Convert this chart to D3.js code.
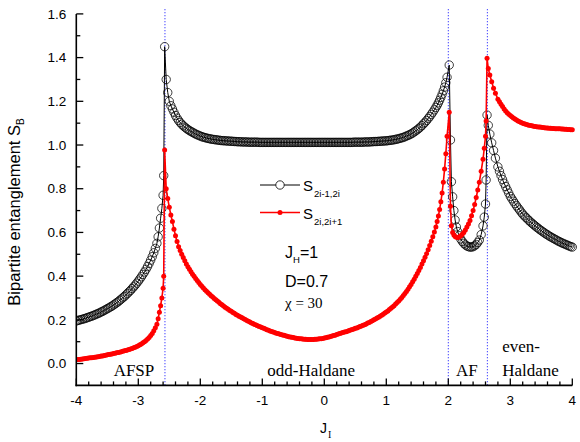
<!DOCTYPE html>
<html><head><meta charset="utf-8">
<script src="https://cdn.jsdelivr.net/npm/d3@7"></script>
<style>body{margin:0;background:#fff}svg{display:block}</style>
</head><body>
<svg id="c" width="580" height="442"></svg>
<script>
// J_I grid (shared by both series)
const jGrid = [
 -4,-3.975,-3.95,-3.925,-3.9,-3.875,-3.85,-3.825,-3.8,-3.775,
 -3.75,-3.725,-3.7,-3.675,-3.65,-3.625,-3.6,-3.575,-3.55,-3.525,
 -3.5,-3.475,-3.45,-3.425,-3.4,-3.375,-3.35,-3.325,-3.3,-3.275,
 -3.25,-3.225,-3.2,-3.175,-3.15,-3.125,-3.1,-3.075,-3.05,-3.025,
 -3,-2.975,-2.95,-2.925,-2.9,-2.875,-2.85,-2.825,-2.8,-2.775,
 -2.75,-2.725,-2.7,
 -2.68,-2.66,-2.64,-2.62,-2.60,-2.59,-2.575,-2.55,-2.525,-2.50,-2.475,-2.45,-2.425,-2.40,
 -2.375,-2.35,-2.325,-2.3,-2.275,-2.25,-2.225,-2.2,-2.175,-2.15,
 -2.125,-2.1,-2.075,-2.05,-2.025,-2,-1.975,-1.95,-1.925,-1.9,
 -1.875,-1.85,-1.825,-1.8,-1.775,-1.75,-1.725,-1.7,-1.675,-1.65,
 -1.625,-1.6,-1.575,-1.55,-1.525,-1.5,-1.475,-1.45,-1.425,-1.4,
 -1.375,-1.35,-1.325,-1.3,-1.275,-1.25,-1.225,-1.2,-1.175,-1.15,
 -1.125,-1.1,-1.075,-1.05,-1.025,-1,-0.975,-0.95,-0.925,-0.9,
 -0.875,-0.85,-0.825,-0.8,-0.775,-0.75,-0.725,-0.7,-0.675,-0.65,
 -0.625,-0.6,-0.575,-0.55,-0.525,-0.5,-0.475,-0.45,-0.425,-0.4,
 -0.375,-0.35,-0.325,-0.3,-0.275,-0.25,-0.225,-0.2,-0.175,-0.15,
 -0.125,-0.1,-0.075,-0.05,-0.025,0,0.025,0.05,0.075,0.1,
 0.125,0.15,0.175,0.2,0.225,0.25,0.275,0.3,0.325,0.35,
 0.375,0.4,0.425,0.45,0.475,0.5,0.525,0.55,0.575,0.6,
 0.625,0.65,0.675,0.7,0.725,0.75,0.775,0.8,0.825,0.85,
 0.875,0.9,0.925,0.95,0.975,1,1.025,1.05,1.075,1.1,
 1.125,1.15,1.175,1.2,1.225,1.25,1.275,1.3,1.325,1.35,
 1.375,1.4,1.425,1.45,1.475,1.5,1.525,1.55,1.575,1.6,
 1.625,1.65,1.675,1.7,1.725,1.75,1.775,1.8,
 1.82,1.84,1.86,1.88,1.90,1.92,1.94,1.96,1.98,2.015,
 2.035,2.05,2.07,2.09,2.11,
 2.13,2.15,2.175,2.20,2.225,2.25,2.275,2.30,2.325,2.35,2.375,2.40,2.425,2.45,2.475,2.50,
 2.53,2.56,2.58,2.60,2.61,2.625,2.645,2.67,2.70,2.73,2.76,2.80,
 2.825,2.85,2.875,2.9,2.925,2.95,2.975,3,3.025,3.05,
 3.075,3.1,3.125,3.15,3.175,3.2,3.225,3.25,3.275,3.3,
 3.325,3.35,3.375,3.4,3.425,3.45,3.475,3.5,3.525,3.55,
 3.575,3.6,3.625,3.65,3.675,3.7,3.725,3.75,3.775,3.8,
 3.825,3.85,3.875,3.9,3.925,3.95,3.975,4
];
// S_{2i-1,2i} (black, open circles)
const sOdd = [
 0.195,0.197,0.199,0.201,0.203,0.205,0.207,0.210,0.212,0.215,
 0.217,0.220,0.223,0.226,0.229,0.232,0.236,0.239,0.243,0.247,
 0.251,0.255,0.259,0.263,0.268,0.273,0.278,0.283,0.289,0.295,
 0.301,0.307,0.314,0.321,0.328,0.335,0.343,0.351,0.359,0.368,
 0.377,0.387,0.397,0.408,0.419,0.431,0.444,0.458,0.473,0.489,
 0.507,0.527,0.550,
 0.580,0.620,0.665,0.710,0.770,0.860,1.450,1.300,1.240,1.200,1.180,1.165,1.150,1.135,
 1.123,1.112,1.103,1.095,1.088,1.082,1.076,1.071,1.066,1.062,
 1.058,1.054,1.050,1.047,1.044,1.041,1.038,1.036,1.034,1.032,
 1.030,1.029,1.027,1.026,1.025,1.024,1.023,1.022,1.021,1.020,
 1.020,1.019,1.019,1.018,1.018,1.017,1.017,1.016,1.016,1.015,
 1.015,1.015,1.014,1.014,1.014,1.014,1.013,1.013,1.013,1.013,
 1.013,1.013,1.013,1.012,1.012,1.012,1.012,1.012,1.012,1.012,
 1.012,1.012,1.012,1.012,1.012,1.012,1.012,1.012,1.012,1.012,
 1.012,1.012,1.012,1.012,1.012,1.012,1.012,1.012,1.012,1.012,
 1.012,1.012,1.012,1.012,1.012,1.012,1.012,1.012,1.012,1.012,
 1.012,1.012,1.012,1.012,1.012,1.012,1.012,1.012,1.012,1.012,
 1.012,1.012,1.012,1.012,1.012,1.012,1.012,1.012,1.012,1.012,
 1.012,1.012,1.012,1.012,1.013,1.013,1.013,1.013,1.013,1.013,
 1.013,1.014,1.014,1.014,1.014,1.015,1.015,1.016,1.016,1.016,
 1.017,1.017,1.018,1.018,1.019,1.019,1.020,1.021,1.022,1.023,
 1.024,1.026,1.027,1.029,1.031,1.033,1.035,1.038,1.041,1.044,
 1.047,1.051,1.055,1.060,1.065,1.070,1.076,1.082,1.089,1.097,
 1.104,1.112,1.121,1.130,1.140,1.150,1.161,1.172,
 1.182,1.193,1.205,1.218,1.232,1.248,1.265,1.285,1.310,1.366,
 1.023,0.832,0.763,0.700,0.657,
 0.625,0.604,0.585,0.570,0.559,0.550,0.543,0.538,0.535,0.533,0.533,0.535,0.539,0.545,0.554,0.565,
 0.590,0.630,0.670,0.730,0.840,1.137,1.090,1.050,1.010,0.975,0.940,0.900,
 0.880,0.860,0.842,0.825,0.810,0.795,0.780,0.765,0.754,0.743,
 0.732,0.722,0.712,0.703,0.693,0.684,0.676,0.669,0.662,0.655,
 0.648,0.642,0.636,0.630,0.624,0.619,0.613,0.608,0.603,0.598,
 0.593,0.589,0.584,0.580,0.576,0.572,0.568,0.564,0.560,0.557,
 0.553,0.550,0.547,0.544,0.541,0.538,0.535,0.533
];
// S_{2i,2i+1} (red, filled dots)
const sEven = [
 0.017,0.018,0.019,0.020,0.021,0.022,0.023,0.024,0.025,0.026,
 0.027,0.028,0.029,0.030,0.031,0.032,0.034,0.035,0.037,0.038,
 0.040,0.041,0.043,0.044,0.046,0.047,0.049,0.050,0.052,0.054,
 0.056,0.058,0.060,0.062,0.064,0.066,0.069,0.072,0.075,0.078,
 0.082,0.086,0.090,0.095,0.100,0.106,0.112,0.119,0.128,0.138,
 0.150,0.164,0.180,
 0.205,0.235,0.265,0.300,0.345,0.400,0.977,0.800,0.755,0.715,0.680,0.650,0.615,0.585,
 0.558,0.535,0.517,0.500,0.485,0.470,0.456,0.443,0.431,0.420,
 0.409,0.399,0.389,0.380,0.371,0.362,0.354,0.346,0.338,0.331,
 0.324,0.317,0.310,0.304,0.298,0.292,0.286,0.280,0.274,0.269,
 0.263,0.258,0.253,0.248,0.243,0.239,0.234,0.230,0.225,0.221,
 0.217,0.213,0.209,0.205,0.201,0.197,0.193,0.190,0.186,0.183,
 0.179,0.176,0.173,0.170,0.167,0.164,0.161,0.158,0.155,0.152,
 0.149,0.147,0.144,0.142,0.139,0.137,0.135,0.133,0.131,0.129,
 0.127,0.125,0.123,0.122,0.120,0.119,0.117,0.116,0.115,0.114,
 0.113,0.112,0.111,0.111,0.110,0.110,0.110,0.110,0.110,0.111,
 0.111,0.112,0.113,0.114,0.115,0.117,0.118,0.120,0.122,0.124,
 0.126,0.128,0.130,0.133,0.135,0.138,0.140,0.142,0.144,0.146,
 0.148,0.151,0.153,0.156,0.158,0.161,0.163,0.166,0.169,0.172,
 0.175,0.178,0.181,0.185,0.188,0.192,0.196,0.200,0.204,0.208,
 0.212,0.217,0.221,0.226,0.231,0.236,0.241,0.247,0.253,0.259,
 0.265,0.272,0.279,0.286,0.294,0.302,0.311,0.320,0.330,0.340,
 0.351,0.362,0.374,0.386,0.399,0.412,0.426,0.440,0.455,0.470,
 0.486,0.503,0.521,0.540,0.560,0.580,0.602,0.625,
 0.650,0.675,0.705,0.740,0.780,0.830,0.890,0.960,1.040,1.150,
 0.720,0.630,0.600,0.588,0.581,
 0.578,0.577,0.579,0.585,0.592,0.600,0.611,0.625,0.639,0.655,0.676,0.700,0.728,0.760,0.794,0.830,
 0.880,0.935,0.985,1.040,1.110,1.397,1.350,1.320,1.290,1.260,1.237,1.210,
 1.198,1.187,1.176,1.165,1.156,1.148,1.141,1.135,1.129,1.124,
 1.119,1.114,1.110,1.106,1.103,1.100,1.097,1.095,1.093,1.091,
 1.089,1.088,1.086,1.085,1.084,1.083,1.082,1.081,1.080,1.079,
 1.078,1.078,1.077,1.077,1.076,1.076,1.075,1.075,1.074,1.074,
 1.073,1.073,1.072,1.072,1.071,1.071,1.070,1.070
];
const transitions = [-2.57, 2.0, 2.63];
const xTicks = [-4,-3,-2,-1,0,1,2,3,4];
const yTicks = [0.0,0.2,0.4,0.6,0.8,1.0,1.2,1.4,1.6];
const phaseLabels = [
 {text:"AFSP", j:-3.07, v:-0.055, anchor:"middle"},
 {text:"odd-Haldane", j:-0.21, v:-0.055, anchor:"middle"},
 {text:"AF", j:2.3, v:-0.055, anchor:"middle"},
 {text:"even-", j:2.87, v:0.053, anchor:"start"},
 {text:"Haldane", j:2.87, v:-0.055, anchor:"start"}
];

const svg = d3.select("#c");
const L = 76.3, R = 572.3, T = 13.9, B = 385.4;
const x = d3.scaleLinear().domain([-4,4]).range([L,R]);
const y = d3.scaleLinear().domain([-0.1,1.6]).range([B,T]);
const sans = "Arial, 'Liberation Sans', sans-serif";
const serif = "'Times New Roman', 'Liberation Serif', serif";

const n = Math.min(jGrid.length, sOdd.length, sEven.length);
const odd = jGrid.slice(0,n).map((j,i)=>[j,sOdd[i]]);
const even = jGrid.slice(0,n).map((j,i)=>[j,sEven[i]]);

svg.append("defs").append("clipPath").attr("id","clip")
  .append("rect").attr("x",L).attr("y",0).attr("width",R-L+6).attr("height",B);

// transition lines
svg.append("g").selectAll("line").data(transitions).join("line")
  .attr("x1",d=>x(d)).attr("x2",d=>x(d)).attr("y1",y(1.622)).attr("y2",B)
  .attr("stroke","#3030ff").attr("stroke-width",1).attr("stroke-dasharray","1.2,1.8");

const plot = svg.append("g").attr("clip-path","url(#clip)");
const line = d3.line().x(d=>x(d[0])).y(d=>y(d[1]));

plot.append("path").datum(odd).attr("d",line).attr("fill","none").attr("stroke","#000").attr("stroke-width",1);
plot.append("g").selectAll("circle").data(odd).join("circle")
  .attr("cx",d=>x(d[0])).attr("cy",d=>y(d[1])).attr("r",4.2)
  .attr("fill","none").attr("stroke","#000").attr("stroke-width",0.75);

plot.append("path").datum(even).attr("d",line).attr("fill","none").attr("stroke","#ff0000").attr("stroke-width",1.6);
plot.append("g").selectAll("circle").data(even).join("circle")
  .attr("cx",d=>x(d[0])).attr("cy",d=>y(d[1])).attr("r",2.5)
  .attr("fill","#ff0000");

// axes
const ax = svg.append("g").attr("stroke","#000");
ax.append("line").attr("x1",L).attr("x2",L).attr("y1",T).attr("y2",B+0.8).attr("stroke-width",1.6);
ax.append("line").attr("x1",L-0.8).attr("x2",R).attr("y1",B).attr("y2",B).attr("stroke-width",1.6);

const yMinor = yTicks.slice(0,-1).map(v=>+(v+0.1).toFixed(1));
const xMinor = [];
xTicks.slice(0,-1).forEach(t=>{[0.2,0.4,0.6,0.8].forEach(f=>xMinor.push(+(t+f).toFixed(1)));});

ax.selectAll(".ytm").data(yTicks).join("line").attr("class","ytm").attr("x1",L).attr("x2",L+7).attr("y1",d=>y(d)).attr("y2",d=>y(d)).attr("stroke-width",1.3);
ax.selectAll(".ytn").data(yMinor).join("line").attr("class","ytn").attr("x1",L).attr("x2",L+4).attr("y1",d=>y(d)).attr("y2",d=>y(d)).attr("stroke-width",1.3);
ax.selectAll(".xtm").data(xTicks).join("line").attr("class","xtm").attr("x1",d=>x(d)).attr("x2",d=>x(d)).attr("y1",B).attr("y2",B-7).attr("stroke-width",1.3);
ax.selectAll(".xtn").data(xMinor).join("line").attr("class","xtn").attr("x1",d=>x(d)).attr("x2",d=>x(d)).attr("y1",B).attr("y2",B-4).attr("stroke-width",1.3);

svg.append("g").selectAll("text").data(yTicks).join("text")
  .attr("x",L-10).attr("y",d=>y(d)+4.7).attr("text-anchor","end")
  .attr("font-family",sans).attr("font-size",13.5).text(d=>d.toFixed(1));
svg.append("g").selectAll("text").data(xTicks).join("text")
  .attr("x",d=>x(d)).attr("y",405).attr("text-anchor","middle")
  .attr("font-family",sans).attr("font-size",13.5).text(d=>d);

// axis titles
const yt = svg.append("text").attr("transform","translate(20,212) rotate(-90)")
  .attr("text-anchor","middle").attr("font-family",sans).attr("font-size",16.5);
yt.append("tspan").text("Bipartite entanglement S");
yt.append("tspan").attr("font-size",10).attr("dy",4).text("B");

const xt = svg.append("text").attr("x",320).attr("y",433).attr("font-family",sans).attr("font-size",14);
xt.append("tspan").text("J");
xt.append("tspan").attr("font-family",serif).attr("font-size",10).attr("dy",5).attr("dx",1).text("I");

// phase labels
svg.append("g").selectAll("text").data(phaseLabels).join("text")
  .attr("x",d=>x(d.j)).attr("y",d=>y(d.v)).attr("text-anchor",d=>d.anchor)
  .attr("font-family",serif).attr("font-size",17).text(d=>d.text);

// legend
const lg = svg.append("g");
lg.append("line").attr("x1",260).attr("x2",300).attr("y1",185).attr("y2",185).attr("stroke","#000").attr("stroke-width",1);
lg.append("circle").attr("cx",280).attr("cy",185).attr("r",4.2).attr("fill","#fff").attr("stroke","#000").attr("stroke-width",0.8);
lg.append("line").attr("x1",260).attr("x2",300).attr("y1",212.5).attr("y2",212.5).attr("stroke","#ff0000").attr("stroke-width",1.6);
lg.append("circle").attr("cx",280).attr("cy",212.5).attr("r",2.5).attr("fill","#ff0000");
const l1 = lg.append("text").attr("x",303).attr("y",191).attr("font-family",sans).attr("font-size",15);
l1.append("tspan").text("S");
l1.append("tspan").attr("font-size",9.5).attr("dy",6).attr("dx",1).text("2i-1,2i");
const l2 = lg.append("text").attr("x",303).attr("y",219).attr("font-family",sans).attr("font-size",15);
l2.append("tspan").text("S");
l2.append("tspan").attr("font-size",9.5).attr("dy",6).attr("dx",1).text("2i,2i+1");

const p1 = svg.append("text").attr("x",285).attr("y",257.5).attr("font-family",sans).attr("font-size",16);
p1.append("tspan").text("J");
p1.append("tspan").attr("font-size",9.5).attr("dy",5.5).text("H");
p1.append("tspan").attr("dy",-5.5).text("=1");
svg.append("text").attr("x",285).attr("y",286.5).attr("font-family",sans).attr("font-size",16).text("D=0.7");
svg.append("text").attr("x",285).attr("y",308).attr("font-family",serif).attr("font-size",15).text("χ = 30");
</script>
</body></html>
